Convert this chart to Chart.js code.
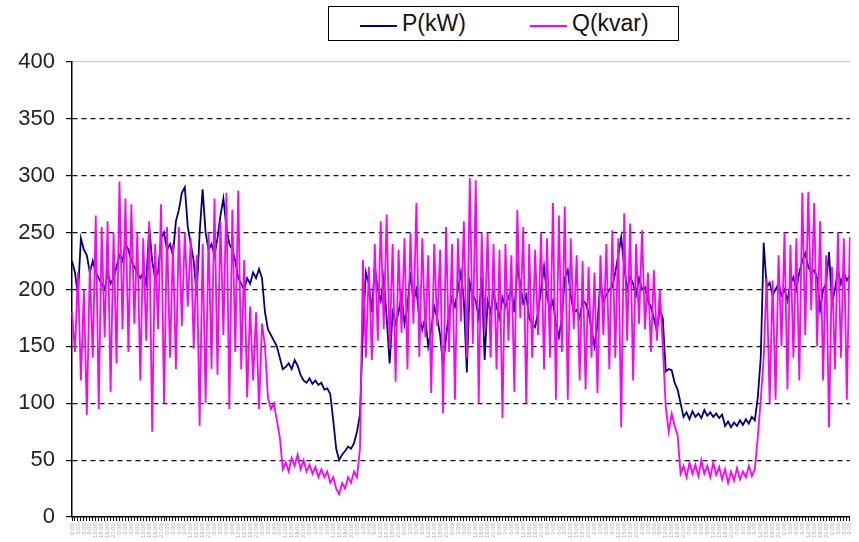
<!DOCTYPE html>
<html>
<head>
<meta charset="utf-8">
<script src="https://cdn.jsdelivr.net/npm/chart.js@4"></script>
<style>
  html, body { margin: 0; padding: 0; background: #fff; }
  #wrap { position: relative; width: 859px; height: 542px; overflow: hidden; }
  #legend { position: absolute; left: 328px; top: 6px; width: 349px; height: 33px; border: 1px solid #000; background: #fff;
            font-family: "Liberation Sans", Arial, sans-serif; font-size: 23px; color: #111; }
  .item { position: absolute; top: 0; height: 33px; line-height: 33px; white-space: nowrap; }
  .swatch { position: absolute; top: 18px; width: 37px; height: 2px; }
</style>
</head>
<body>
<div id="wrap">
  <canvas id="c" width="859" height="542"></canvas>
  <div id="legend">
    <div class="swatch" style="left:31px;background:#000080"></div>
    <div class="item" style="left:73px">P(kW)</div>
    <div class="swatch" style="left:201px;background:#FF00FF"></div>
    <div class="item" style="left:243px">Q(kvar)</div>
  </div>
</div>
<script>
// Series values (one point per ~3 px)
const pValues = [
  225,215,195,245,235,230,215,225,215,210,205,200,215,205,210,220,230,225,240,235,
  225,220,215,210,215,205,255,225,210,215,245,250,235,240,230,260,270,285,290,255,
  240,225,195,250,288,250,235,240,230,245,265,280,255,240,235,225,210,205,200,210,
  205,215,210,218,210,
  180,165,160,155,150,140,130,132,135,130,138,133,125,120,118,122,117,120,116,118,
  112,113,108,85,60,50,55,58,62,60,65,75,90,
  165,215,205,180,220,200,190,210,175,135,180,170,180,195,170,185,215,190,200,175,
  165,175,150,165,185,175,160,132,158,180,193,185,200,215,190,127,206,195,190,175,
  211,138,190,180,197,185,175,193,185,193,200,180,220,205,188,195,175,170,167,180,
  200,220,195,182,190,170,158,175,210,217,195,180,182,175,190,188,180,165,150,170,
  208,190,195,200,202,215,230,246,220,200,211,205,195,210,200,202,190,185,175,164,
  182,175,
  128,130,129,118,112,100,88,92,86,93,88,91,87,94,89,92,88,91,87,90,
  80,84,79,83,80,85,81,86,82,88,85,105,
  140,241,202,206,195,200,205,195,200,190,205,211,200,215,225,232,220,215,217,210,
  182,200,205,233,188,200,217,205,215,208,212
];
const qValues = [
  180,145,215,120,200,90,220,140,265,95,255,158,260,110,250,135,295,165,280,145,
  275,170,250,120,245,155,260,75,240,165,275,100,255,140,240,130,255,168,250,185,
  245,148,230,80,240,100,250,130,280,125,260,160,285,95,270,145,287,130,226,105,
  185,120,180,95,170,
  150,105,95,100,85,70,42,48,40,52,45,55,42,50,40,46,38,44,35,42,
  35,40,30,35,25,20,30,25,35,30,40,35,60,
  226,140,220,138,240,155,260,165,266,148,240,119,235,162,245,130,250,170,276,141,
  245,158,230,109,240,168,235,91,255,145,240,103,245,172,260,140,298,152,296,100,
  250,165,250,140,240,130,235,87,240,155,230,110,270,175,255,100,240,140,235,160,
  250,130,245,140,276,103,265,145,273,103,245,165,230,120,225,112,220,140,215,109,
  230,160,240,130,252,140,245,79,267,155,258,120,240,170,252,165,215,145,217,155,
  200,150,
  97,75,91,80,72,38,45,35,48,38,46,36,50,38,45,35,48,37,44,33,
  42,30,40,32,43,33,40,35,45,36,42,70,
  103,140,210,100,208,103,230,150,250,112,239,140,245,120,285,160,286,182,276,150,
  260,120,230,79,220,130,250,140,245,103,246
];
// Tick label texts (x axis, tiny rotated), y tick values
const hourLabels = ['0:00','3:00','6:00','9:00','12:00','15:00','18:00','21:00'];
const yTicks = [0,50,100,150,200,250,300,350,400];

const categories = pValues.map((_, i) => hourLabels[(i >> 1) % hourLabels.length]);

const ctx = document.getElementById('c').getContext('2d');
new Chart(ctx, {
  type: 'line',
  data: {
    labels: categories,
    datasets: [
      { label: 'P(kW)', data: pValues, borderColor: '#000080', borderWidth: 1.8, pointRadius: 0, tension: 0, order: 2 },
      { label: 'Q(kvar)', data: qValues, borderColor: '#FF00FF', borderWidth: 1.8, pointRadius: 0, tension: 0, order: 1 }
    ]
  },
  options: {
    responsive: false,
    animation: false,
    events: [],
    layout: { padding: { top: 62, right: 1, left: 0, bottom: 0 } },
    plugins: { legend: { display: false }, tooltip: { enabled: false } },
    scales: {
      x: {
        type: 'category',
        offset: false,
        afterFit: s => { s.height = 25; },
        grid: { display: true, drawOnChartArea: false, drawTicks: true, tickLength: 4, color: '#000', tickColor: '#000', lineWidth: 1 },
        border: { display: true, color: '#000', width: 1.5 },
        ticks: {
          autoSkip: false, minRotation: 90, maxRotation: 90, padding: 2,
          font: { family: 'Liberation Sans, Arial', size: 6 }, color: '#b0b0b0',
          callback: (v, i) => (i % 2 === 0 ? categories[i] : '')
        }
      },
      y: {
        min: 0, max: 400,
        afterFit: s => { s.width = 72; },
        afterBuildTicks: s => { s.ticks = yTicks.map(v => ({ value: v })); },
        grid: {
          color: c => (c.tick && c.tick.value === 400 ? '#9a9a9a' : '#111'),
          lineWidth: 1.2, tickLength: 6, tickColor: '#000', tickBorderDash: []
        },
        border: { display: true, color: '#000', width: 1.5, dash: c => (c.tick && c.tick.value === 400 ? [1, 1] : [5, 4]) },
        ticks: {
          padding: 11, color: '#222',
          font: { family: 'Liberation Sans, Arial', size: 22 }
        }
      }
    }
  }
});
</script>
</body>
</html>
